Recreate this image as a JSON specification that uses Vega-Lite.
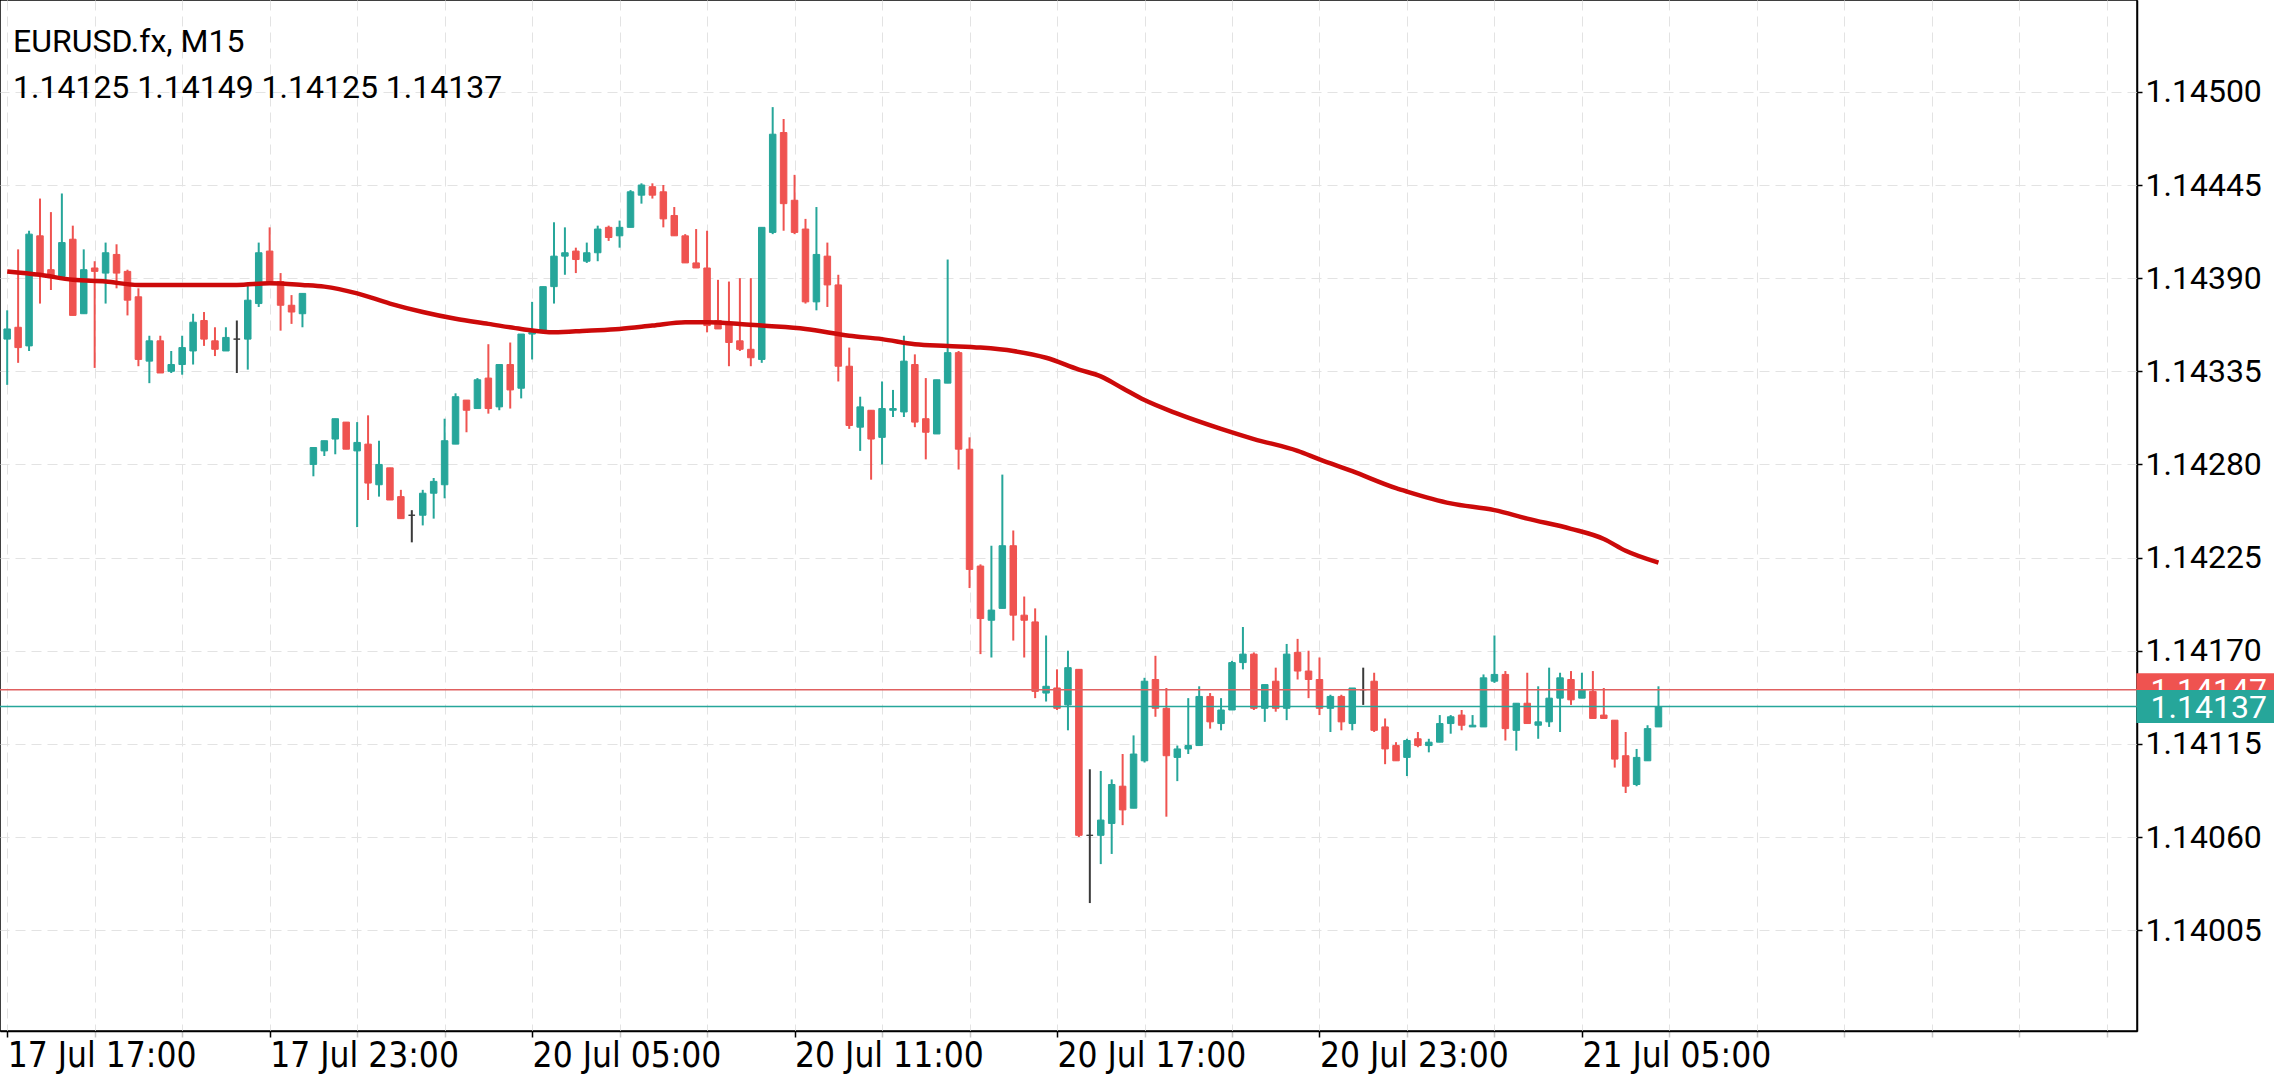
{
  "$schema": "https://vega.github.io/schema/vega-lite/v6.json",
  "width": 2137,
  "height": 1031,
  "autosize": "none",
  "padding": {"left": 0, "top": 0, "right": 137, "bottom": 49},
  "background": "#ffffff",
  "title": {
    "text": ["EURUSD.fx, M15", "1.14125 1.14149 1.14125 1.14137"],
    "anchor": "start",
    "frame": "group",
    "orient": "top",
    "baseline": "top",
    "offset": -22,
    "dx": 13,
    "dy": 83,
    "font": "Roboto",
    "fontSize": 32,
    "fontWeight": "normal",
    "color": "#000000",
    "lineHeight": 46
  },
  "config": {
    "font": "Roboto",
    "view": {"stroke": "#000000", "strokeWidth": 1.5}
  },
  "datasets": {
    "candles": [
      {"i":0,"o":1.14354,"h":1.14371,"l":1.14327,"c":1.14360},
      {"i":1,"o":1.14361,"h":1.14407,"l":1.14340,"c":1.14349},
      {"i":2,"o":1.14350,"h":1.14418,"l":1.14347,"c":1.14416},
      {"i":3,"o":1.14415,"h":1.14437,"l":1.14375,"c":1.14393},
      {"i":4,"o":1.14395,"h":1.14429,"l":1.14383,"c":1.14391},
      {"i":5,"o":1.14391,"h":1.14440,"l":1.14390,"c":1.14411},
      {"i":6,"o":1.14413,"h":1.14421,"l":1.14368,"c":1.14368},
      {"i":7,"o":1.14369,"h":1.14407,"l":1.14369,"c":1.14395},
      {"i":8,"o":1.14396,"h":1.14400,"l":1.14337,"c":1.14394},
      {"i":9,"o":1.14393,"h":1.14411,"l":1.14375,"c":1.14405},
      {"i":10,"o":1.14404,"h":1.14410,"l":1.14384,"c":1.14393},
      {"i":11,"o":1.14394,"h":1.14395,"l":1.14368,"c":1.14377},
      {"i":12,"o":1.14379,"h":1.14384,"l":1.14338,"c":1.14342},
      {"i":13,"o":1.14341,"h":1.14356,"l":1.14328,"c":1.14353},
      {"i":14,"o":1.14353,"h":1.14356,"l":1.14334,"c":1.14334},
      {"i":15,"o":1.14335,"h":1.14347,"l":1.14334,"c":1.14339},
      {"i":16,"o":1.14339,"h":1.14356,"l":1.14333,"c":1.14349},
      {"i":17,"o":1.14347,"h":1.14369,"l":1.14339,"c":1.14364},
      {"i":18,"o":1.14365,"h":1.14370,"l":1.14350,"c":1.14354},
      {"i":19,"o":1.14353,"h":1.14361,"l":1.14344,"c":1.14348},
      {"i":20,"o":1.14347,"h":1.14361,"l":1.14347,"c":1.14355},
      {"i":21,"o":1.14354,"h":1.14365,"l":1.14334,"c":1.14354},
      {"i":22,"o":1.14354,"h":1.14386,"l":1.14336,"c":1.14377},
      {"i":23,"o":1.14375,"h":1.14411,"l":1.14373,"c":1.14405},
      {"i":24,"o":1.14406,"h":1.14420,"l":1.14388,"c":1.14388},
      {"i":25,"o":1.14388,"h":1.14393,"l":1.14359,"c":1.14374},
      {"i":26,"o":1.14374,"h":1.14380,"l":1.14363,"c":1.14370},
      {"i":27,"o":1.14369,"h":1.14381,"l":1.14361,"c":1.14381},
      {"i":28,"o":1.14280,"h":1.14290,"l":1.14273,"c":1.14290},
      {"i":29,"o":1.14288,"h":1.14294,"l":1.14285,"c":1.14294},
      {"i":30,"o":1.14295,"h":1.14307,"l":1.14286,"c":1.14307},
      {"i":31,"o":1.14305,"h":1.14305,"l":1.14289,"c":1.14289},
      {"i":32,"o":1.14288,"h":1.14305,"l":1.14243,"c":1.14293},
      {"i":33,"o":1.14292,"h":1.14309,"l":1.14259,"c":1.14269},
      {"i":34,"o":1.14268,"h":1.14294,"l":1.14261,"c":1.14280},
      {"i":35,"o":1.14278,"h":1.14278,"l":1.14259,"c":1.14259},
      {"i":36,"o":1.14261,"h":1.14265,"l":1.14248,"c":1.14248},
      {"i":37,"o":1.14250,"h":1.14253,"l":1.14234,"c":1.14250},
      {"i":38,"o":1.14250,"h":1.14265,"l":1.14244,"c":1.14263},
      {"i":39,"o":1.14263,"h":1.14272,"l":1.14248,"c":1.14270},
      {"i":40,"o":1.14268,"h":1.14307,"l":1.14260,"c":1.14294},
      {"i":41,"o":1.14292,"h":1.14322,"l":1.14292,"c":1.14320},
      {"i":42,"o":1.14318,"h":1.14318,"l":1.14299,"c":1.14312},
      {"i":43,"o":1.14313,"h":1.14331,"l":1.14313,"c":1.14330},
      {"i":44,"o":1.14331,"h":1.14351,"l":1.14310,"c":1.14313},
      {"i":45,"o":1.14314,"h":1.14339,"l":1.14312,"c":1.14339},
      {"i":46,"o":1.14339,"h":1.14352,"l":1.14313,"c":1.14324},
      {"i":47,"o":1.14325,"h":1.14357,"l":1.14319,"c":1.14357},
      {"i":48,"o":1.14357,"h":1.14376,"l":1.14342,"c":1.14358},
      {"i":49,"o":1.14359,"h":1.14385,"l":1.14358,"c":1.14385},
      {"i":50,"o":1.14385,"h":1.14423,"l":1.14375,"c":1.14403},
      {"i":51,"o":1.14403,"h":1.14420,"l":1.14392,"c":1.14405},
      {"i":52,"o":1.14406,"h":1.14408,"l":1.14393,"c":1.14401},
      {"i":53,"o":1.14400,"h":1.14411,"l":1.14399,"c":1.14405},
      {"i":54,"o":1.14405,"h":1.14421,"l":1.14400,"c":1.14419},
      {"i":55,"o":1.14420,"h":1.14421,"l":1.14412,"c":1.14414},
      {"i":56,"o":1.14415,"h":1.14424,"l":1.14408,"c":1.14420},
      {"i":57,"o":1.14420,"h":1.14442,"l":1.14420,"c":1.14441},
      {"i":58,"o":1.14439,"h":1.14446,"l":1.14434,"c":1.14445},
      {"i":59,"o":1.14444,"h":1.14446,"l":1.14437,"c":1.14439},
      {"i":60,"o":1.14441,"h":1.14445,"l":1.14420,"c":1.14425},
      {"i":61,"o":1.14427,"h":1.14432,"l":1.14415,"c":1.14415},
      {"i":62,"o":1.14415,"h":1.14416,"l":1.14399,"c":1.14399},
      {"i":63,"o":1.14399,"h":1.14419,"l":1.14396,"c":1.14396},
      {"i":64,"o":1.14396,"h":1.14418,"l":1.14358,"c":1.14362},
      {"i":65,"o":1.14365,"h":1.14389,"l":1.14360,"c":1.14360},
      {"i":66,"o":1.14363,"h":1.14388,"l":1.14338,"c":1.14352},
      {"i":67,"o":1.14353,"h":1.14390,"l":1.14347,"c":1.14348},
      {"i":68,"o":1.14348,"h":1.14390,"l":1.14338,"c":1.14343},
      {"i":69,"o":1.14342,"h":1.14420,"l":1.14340,"c":1.14420},
      {"i":70,"o":1.14417,"h":1.14491,"l":1.14416,"c":1.14475},
      {"i":71,"o":1.14476,"h":1.14484,"l":1.14418,"c":1.14434},
      {"i":72,"o":1.14436,"h":1.14451,"l":1.14416,"c":1.14417},
      {"i":73,"o":1.14419,"h":1.14425,"l":1.14375,"c":1.14376},
      {"i":74,"o":1.14376,"h":1.14432,"l":1.14371,"c":1.14404},
      {"i":75,"o":1.14403,"h":1.14411,"l":1.14373,"c":1.14386},
      {"i":76,"o":1.14386,"h":1.14392,"l":1.14329,"c":1.14338},
      {"i":77,"o":1.14338,"h":1.14349,"l":1.14301,"c":1.14303},
      {"i":78,"o":1.14302,"h":1.14320,"l":1.14288,"c":1.14314},
      {"i":79,"o":1.14312,"h":1.14312,"l":1.14271,"c":1.14295},
      {"i":80,"o":1.14296,"h":1.14329,"l":1.14280,"c":1.14313},
      {"i":81,"o":1.14312,"h":1.14324,"l":1.14308,"c":1.14313},
      {"i":82,"o":1.14311,"h":1.14356,"l":1.14308,"c":1.14341},
      {"i":83,"o":1.14339,"h":1.14345,"l":1.14302,"c":1.14305},
      {"i":84,"o":1.14307,"h":1.14331,"l":1.14283,"c":1.14299},
      {"i":85,"o":1.14298,"h":1.14330,"l":1.14298,"c":1.14330},
      {"i":86,"o":1.14328,"h":1.14401,"l":1.14328,"c":1.14346},
      {"i":87,"o":1.14346,"h":1.14347,"l":1.14277,"c":1.14289},
      {"i":88,"o":1.14289,"h":1.14296,"l":1.14207,"c":1.14218},
      {"i":89,"o":1.14220,"h":1.14221,"l":1.14168,"c":1.14189},
      {"i":90,"o":1.14188,"h":1.14232,"l":1.14166,"c":1.14194},
      {"i":91,"o":1.14195,"h":1.14274,"l":1.14195,"c":1.14232},
      {"i":92,"o":1.14232,"h":1.14241,"l":1.14176,"c":1.14191},
      {"i":93,"o":1.14191,"h":1.14202,"l":1.14166,"c":1.14188},
      {"i":94,"o":1.14187,"h":1.14195,"l":1.14142,"c":1.14146},
      {"i":95,"o":1.14145,"h":1.14179,"l":1.14140,"c":1.14149},
      {"i":96,"o":1.14148,"h":1.14159,"l":1.14135,"c":1.14136},
      {"i":97,"o":1.14138,"h":1.14170,"l":1.14123,"c":1.14160},
      {"i":98,"o":1.14159,"h":1.14159,"l":1.14060,"c":1.14061},
      {"i":99,"o":1.14061,"h":1.14100,"l":1.14021,"c":1.14061},
      {"i":100,"o":1.14061,"h":1.14099,"l":1.14044,"c":1.14070},
      {"i":101,"o":1.14068,"h":1.14094,"l":1.14050,"c":1.14091},
      {"i":102,"o":1.14090,"h":1.14109,"l":1.14067,"c":1.14076},
      {"i":103,"o":1.14077,"h":1.14120,"l":1.14077,"c":1.14109},
      {"i":104,"o":1.14105,"h":1.14154,"l":1.14104,"c":1.14152},
      {"i":105,"o":1.14153,"h":1.14167,"l":1.14131,"c":1.14136},
      {"i":106,"o":1.14136,"h":1.14148,"l":1.14072,"c":1.14108},
      {"i":107,"o":1.14107,"h":1.14114,"l":1.14093,"c":1.14112},
      {"i":108,"o":1.14112,"h":1.14142,"l":1.14109,"c":1.14114},
      {"i":109,"o":1.14114,"h":1.14149,"l":1.14114,"c":1.14143},
      {"i":110,"o":1.14143,"h":1.14145,"l":1.14124,"c":1.14128},
      {"i":111,"o":1.14127,"h":1.14142,"l":1.14123,"c":1.14135},
      {"i":112,"o":1.14135,"h":1.14164,"l":1.14135,"c":1.14163},
      {"i":113,"o":1.14163,"h":1.14184,"l":1.14159,"c":1.14168},
      {"i":114,"o":1.14168,"h":1.14169,"l":1.14135,"c":1.14136},
      {"i":115,"o":1.14136,"h":1.14150,"l":1.14128,"c":1.14150},
      {"i":116,"o":1.14152,"h":1.14160,"l":1.14134,"c":1.14136},
      {"i":117,"o":1.14136,"h":1.14174,"l":1.14129,"c":1.14168},
      {"i":118,"o":1.14169,"h":1.14177,"l":1.14153,"c":1.14158},
      {"i":119,"o":1.14158,"h":1.14170,"l":1.14142,"c":1.14153},
      {"i":120,"o":1.14153,"h":1.14166,"l":1.14132,"c":1.14136},
      {"i":121,"o":1.14136,"h":1.14144,"l":1.14122,"c":1.14143},
      {"i":122,"o":1.14143,"h":1.14144,"l":1.14123,"c":1.14128},
      {"i":123,"o":1.14127,"h":1.14148,"l":1.14123,"c":1.14148},
      {"i":124,"o":1.14147,"h":1.14160,"l":1.14138,"c":1.14147},
      {"i":125,"o":1.14152,"h":1.14157,"l":1.14122,"c":1.14123},
      {"i":126,"o":1.14125,"h":1.14130,"l":1.14103,"c":1.14112},
      {"i":127,"o":1.14114,"h":1.14116,"l":1.14105,"c":1.14105},
      {"i":128,"o":1.14107,"h":1.14118,"l":1.14096,"c":1.14117},
      {"i":129,"o":1.14118,"h":1.14122,"l":1.14113,"c":1.14114},
      {"i":130,"o":1.14114,"h":1.14118,"l":1.14110,"c":1.14116},
      {"i":131,"o":1.14116,"h":1.14132,"l":1.14116,"c":1.14127},
      {"i":132,"o":1.14127,"h":1.14132,"l":1.14121,"c":1.14131},
      {"i":133,"o":1.14132,"h":1.14135,"l":1.14123,"c":1.14126},
      {"i":134,"o":1.14125,"h":1.14132,"l":1.14125,"c":1.14126},
      {"i":135,"o":1.14125,"h":1.14156,"l":1.14125,"c":1.14154},
      {"i":136,"o":1.14152,"h":1.14179,"l":1.14151,"c":1.14156},
      {"i":137,"o":1.14156,"h":1.14158,"l":1.14117,"c":1.14124},
      {"i":138,"o":1.14123,"h":1.14139,"l":1.14111,"c":1.14139},
      {"i":139,"o":1.14139,"h":1.14157,"l":1.14127,"c":1.14127},
      {"i":140,"o":1.14126,"h":1.14149,"l":1.14118,"c":1.14128},
      {"i":141,"o":1.14128,"h":1.14160,"l":1.14125,"c":1.14142},
      {"i":142,"o":1.14142,"h":1.14157,"l":1.14122,"c":1.14154},
      {"i":143,"o":1.14153,"h":1.14158,"l":1.14138,"c":1.14141},
      {"i":144,"o":1.14142,"h":1.14157,"l":1.14142,"c":1.14147},
      {"i":145,"o":1.14146,"h":1.14158,"l":1.14130,"c":1.14130},
      {"i":146,"o":1.14132,"h":1.14148,"l":1.14130,"c":1.14130},
      {"i":147,"o":1.14129,"h":1.14129,"l":1.14101,"c":1.14106},
      {"i":148,"o":1.14108,"h":1.14122,"l":1.14086,"c":1.14090},
      {"i":149,"o":1.14091,"h":1.14112,"l":1.14090,"c":1.14107},
      {"i":150,"o":1.14105,"h":1.14126,"l":1.14105,"c":1.14124},
      {"i":151,"o":1.14125,"h":1.14149,"l":1.14125,"c":1.14137}
    ],
    "ma": [
      {"i":0,"ma":1.14394},{"i":3,"ma":1.14392},{"i":6,"ma":1.14389},{"i":9,"ma":1.14388},
      {"i":12,"ma":1.14386},{"i":15,"ma":1.14386},{"i":18,"ma":1.14386},{"i":21,"ma":1.14386},
      {"i":24,"ma":1.14387},{"i":27,"ma":1.14386},{"i":29,"ma":1.14385},{"i":32,"ma":1.14381},
      {"i":35,"ma":1.14375},{"i":38,"ma":1.14370},{"i":41,"ma":1.14366},{"i":44,"ma":1.14363},
      {"i":47,"ma":1.14360},{"i":50,"ma":1.14358},{"i":53,"ma":1.14359},{"i":56,"ma":1.14360},
      {"i":59,"ma":1.14362},{"i":62,"ma":1.14364},{"i":64,"ma":1.14364},{"i":67,"ma":1.14363},
      {"i":69,"ma":1.14362},{"i":73,"ma":1.14360},{"i":77,"ma":1.14356},{"i":80,"ma":1.14354},
      {"i":83,"ma":1.14351},{"i":86,"ma":1.14350},{"i":89,"ma":1.14349},{"i":92,"ma":1.14347},
      {"i":95,"ma":1.14343},{"i":98,"ma":1.14336},{"i":100,"ma":1.14332},{"i":102,"ma":1.14325},
      {"i":104,"ma":1.14318},{"i":107,"ma":1.14310},{"i":111,"ma":1.14301},{"i":114,"ma":1.14295},
      {"i":118,"ma":1.14288},{"i":120,"ma":1.14283},{"i":123,"ma":1.14276},{"i":127,"ma":1.14266},
      {"i":128,"ma":1.14264},{"i":132,"ma":1.14257},{"i":136,"ma":1.14253},{"i":139,"ma":1.14248},
      {"i":143,"ma":1.14242},{"i":146,"ma":1.14236},{"i":148,"ma":1.14229},{"i":151,"ma":1.14222}
    ],
    "ask": [{"label":"1.14147","p":1.14147}],
    "bid": [{"label":"1.14137","p":1.14137}]
  },
  "layer": [
    {
      "data": {"name": "candles"},
      "mark": {"type": "rule", "strokeWidth": 2},
      "encoding": {
        "x": {
          "field": "i", "type": "quantitative",
          "scale": {"domain": [-0.2, 194.3], "zero": false, "nice": false},
          "axis": {
            "values": [0,8,16,24,32,40,48,56,64,72,80,88,96,104,112,120,128,136,144,152,160,168,176,184,192],
            "title": null,
            "grid": true, "gridDash": [10, 6], "gridColor": "#e3e3e3", "gridWidth": 1,
            "domainColor": "#000000", "domainWidth": 1.5,
            "tickColor": {"condition": {"test": "datum.value % 24 === 0 && datum.value <= 144", "value": "#000000"}, "value": "#c8c8c8"},
            "tickSize": 6, "tickWidth": 1.5,
            "labelExpr": "datum.value % 24 === 0 && datum.value <= 144 ? ['17 Jul 17:00','17 Jul 23:00','20 Jul 05:00','20 Jul 11:00','20 Jul 17:00','20 Jul 23:00','21 Jul 05:00'][datum.value / 24] : ''",
            "labelAlign": "left", "labelBaseline": "top", "labelPadding": 1, "labelDx": 1,
            "labelFont": "Liberation Sans Narrow, DejaVu Sans Condensed, sans-serif",
            "labelFontSize": 35, "labelColor": "#000000", "labelLimit": 600,
            "labelOverlap": false, "labelBound": false, "labelFlush": false
          }
        },
        "y": {
          "field": "l", "type": "quantitative",
          "scale": {"domain": [1.139484, 1.145513], "zero": false, "nice": false},
          "axis": {
            "orient": "right",
            "values": [1.14005, 1.1406, 1.14115, 1.1417, 1.14225, 1.1428, 1.14335, 1.1439, 1.14445, 1.145],
            "format": ".5f",
            "title": null,
            "grid": true, "gridDash": [10, 6], "gridColor": "#e3e3e3", "gridWidth": 1,
            "domainColor": "#000000", "domainWidth": 1.5,
            "tickColor": "#000000", "tickSize": 5, "tickWidth": 1.5,
            "labelFont": "Roboto", "labelFontSize": 32, "labelColor": "#000000",
            "labelPadding": 3, "labelOverlap": false, "labelBound": false, "labelFlush": false
          }
        },
        "y2": {"field": "h"},
        "color": {
          "condition": [
            {"test": "datum.c > datum.o", "value": "#26a69a"},
            {"test": "datum.c < datum.o", "value": "#ef5350"}
          ],
          "value": "#3a3a3a"
        }
      }
    },
    {
      "data": {"name": "candles"},
      "mark": {"type": "bar", "width": 6.5, "strokeWidth": 1},
      "encoding": {
        "x": {"field": "i", "type": "quantitative", "scale": {"domain": [-0.2, 194.3], "zero": false, "nice": false}},
        "y": {"field": "o", "type": "quantitative", "scale": {"domain": [1.139484, 1.145513], "zero": false, "nice": false}},
        "y2": {"field": "c"},
        "color": {
          "condition": [
            {"test": "datum.c > datum.o", "value": "#26a69a"},
            {"test": "datum.c < datum.o", "value": "#ef5350"}
          ],
          "value": "#3a3a3a"
        },
        "stroke": {
          "condition": [
            {"test": "datum.c > datum.o", "value": "#26a69a"},
            {"test": "datum.c < datum.o", "value": "#ef5350"}
          ],
          "value": "#3a3a3a"
        }
      }
    },
    {
      "data": {"name": "ma"},
      "mark": {"type": "line", "color": "#cc0a0a", "strokeWidth": 4.5, "interpolate": "monotone"},
      "encoding": {
        "x": {"field": "i", "type": "quantitative", "scale": {"domain": [-0.2, 194.3], "zero": false, "nice": false}},
        "y": {"field": "ma", "type": "quantitative", "scale": {"domain": [1.139484, 1.145513], "zero": false, "nice": false}}
      }
    },
    {
      "data": {"name": "ask"},
      "mark": {"type": "rule", "color": "#e06060", "strokeWidth": 1.5},
      "encoding": {
        "y": {"field": "p", "type": "quantitative", "scale": {"domain": [1.139484, 1.145513], "zero": false, "nice": false}}
      }
    },
    {
      "data": {"name": "bid"},
      "mark": {"type": "rule", "color": "#26a69a", "strokeWidth": 1.5},
      "encoding": {
        "y": {"field": "p", "type": "quantitative", "scale": {"domain": [1.139484, 1.145513], "zero": false, "nice": false}}
      }
    },
    {
      "data": {"name": "ask"},
      "mark": {"type": "bar", "orient": "horizontal", "height": 33, "color": "#ef5350", "clip": false},
      "encoding": {
        "x": {"datum": 194.7, "type": "quantitative", "scale": {"domain": [-0.2, 194.3], "zero": false, "nice": false}},
        "x2": {"datum": 207.5},
        "y": {"field": "p", "type": "quantitative", "scale": {"domain": [1.139484, 1.145513], "zero": false, "nice": false}}
      }
    },
    {
      "data": {"name": "ask"},
      "mark": {"type": "text", "align": "left", "baseline": "middle", "font": "Roboto", "fontSize": 32, "color": "#ffffff", "clip": false, "dy": 1},
      "encoding": {
        "x": {"datum": 196.0, "type": "quantitative", "scale": {"domain": [-0.2, 194.3], "zero": false, "nice": false}},
        "y": {"field": "p", "type": "quantitative", "scale": {"domain": [1.139484, 1.145513], "zero": false, "nice": false}},
        "text": {"field": "label"}
      }
    },
    {
      "data": {"name": "bid"},
      "mark": {"type": "bar", "orient": "horizontal", "height": 33, "color": "#26a69a", "clip": false},
      "encoding": {
        "x": {"datum": 194.7, "type": "quantitative", "scale": {"domain": [-0.2, 194.3], "zero": false, "nice": false}},
        "x2": {"datum": 207.5},
        "y": {"field": "p", "type": "quantitative", "scale": {"domain": [1.139484, 1.145513], "zero": false, "nice": false}}
      }
    },
    {
      "data": {"name": "bid"},
      "mark": {"type": "text", "align": "left", "baseline": "middle", "font": "Roboto", "fontSize": 32, "color": "#ffffff", "clip": false, "dy": 1},
      "encoding": {
        "x": {"datum": 196.0, "type": "quantitative", "scale": {"domain": [-0.2, 194.3], "zero": false, "nice": false}},
        "y": {"field": "p", "type": "quantitative", "scale": {"domain": [1.139484, 1.145513], "zero": false, "nice": false}},
        "text": {"field": "label"}
      }
    }
  ]
}
